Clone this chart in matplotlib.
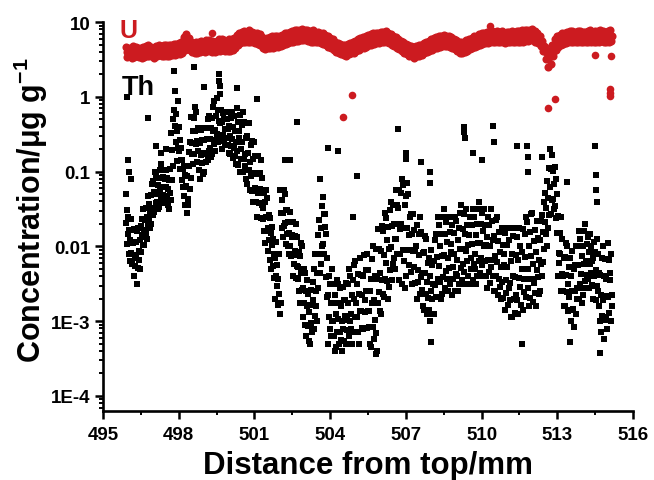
import numpy as np
import matplotlib

matplotlib.use("Agg")
import matplotlib.pyplot as plt
from matplotlib.ticker import FixedLocator, LogLocator, NullFormatter

# LA-ICP-MS line scan, log10 of concentration (ug/g)
X_START = 495.9
TH_STEP = 0.02      # Th sampled every 0.02 mm
U_STEP = 1.0 / 30   # U sampled every 1/30 mm

th_log10 = [
    -1.3, -1.69, -1.97, -1.51, -1.83, -1.61, -2.1, -1.78, -2.2, -1.92,
    -1.64, -2.09, -1.78, -2.23, -1.95, -1.95, -2.4, -1.77, -2.16, -2.26,
    -1.94, -2.12, -2.5, -1.8, -2.29, -1.76, -2.06, -2.18, -1.91, -2.3,
    -1.73, -2.08, -1.85, -1.63, -1.98, -1.5, -1.78, -1.98, -1.65, -1.88,
    -1.48, -1.83, -1.6, -1.9, -1.7, -1.33, -1.65, -1.43, -1.75, -1.55,
    -1.31, -1.7, -1.16, -1.49, -1.58, -1.12, -1.27, -1.54, -1.0, -1.42,
    -1.05, -1.3, -1.4, -1.18, -1.5, -1.09, -1.47, -1.23, -0.98, -1.36,
    -0.9, -1.2, -1.42, -1.07, -1.31, -0.98, -1.33, -1.1, -1.4, -1.2,
    -0.98, -1.34, -1.09, -1.45, -1.23, -1.11, -1.5, -0.96, -1.29, -1.38,
    -0.48, -0.71, -1.11, -0.3, -0.93, 0.35, -0.18, -0.39, 0.08, -0.6,
    -0.23, -0.86, -0.45, -0.05, -0.68, -0.4, -0.73, -0.97, -0.58, -0.85,
    -0.69, -1.11, -0.84, -1.2, -0.96, -0.93, -1.32, -1.05, -1.44, -1.2,
    -1.19, -1.55, -1.06, -1.36, -1.44, -0.74, -0.92, -1.23, -0.6, -1.09,
    -0.27, -0.62, -0.76, -0.45, -0.9, -0.28, -0.77, -0.45, -0.14, -0.63,
    -0.2, -0.59, -0.87, -0.41, -0.73, -0.42, -0.98, -0.62, -1.1, -0.78,
    -0.44, -0.89, -0.58, -1.03, -0.75, -0.58, -1.0, -0.42, -0.77, -0.87,
    -0.42, -0.57, -0.84, -0.3, -0.72, -0.26, -0.56, -0.68, -0.41, -0.8,
    -0.28, -0.77, -0.45, -0.14, -0.63, -0.05, -0.44, -0.72, -0.26, -0.58,
    -0.01, -0.5, -0.18, -0.6, -0.32, 0.21, -0.35, 0.04, -0.52, -0.18,
    -0.34, -0.7, -0.21, -0.51, -0.59, -0.3, -0.43, -0.65, -0.2, -0.55,
    -0.3, -0.55, -0.65, -0.43, -0.75, -0.39, -0.77, -0.53, -0.28, -0.66,
    -0.2, -0.56, -0.82, -0.4, -0.69, -0.26, -0.79, -0.45, -0.9, -0.6,
    -0.15, -0.73, -0.33, -0.91, -0.55, -0.45, -1.0, -0.24, -0.7, -0.83,
    -0.38, -0.61, -1.01, -0.2, -0.83, -0.34, -0.76, -0.93, -0.55, -1.1,
    -0.53, -1.16, -0.75, -0.35, -0.98, -0.35, -0.87, -1.25, -0.64, -1.06,
    -0.59, -1.26, -0.83, -1.4, -1.02, -0.6, -1.22, -0.79, -1.41, -1.03,
    -1.02, -1.6, -0.79, -1.29, -1.42, -1.02, -1.23, -1.62, -0.85, -1.45,
    -1.08, -1.48, -1.64, -1.28, -1.8, -1.4, -1.96, -1.6, -1.24, -1.8,
    -1.35, -1.76, -2.06, -1.58, -1.91, -1.62, -2.18, -1.82, -2.3, -1.98,
    -1.74, -2.26, -1.9, -2.42, -2.1, -2.15, -2.7, -1.94, -2.4, -2.53,
    -2.25, -2.44, -2.78, -2.1, -2.63, -1.25, -2.9, -1.55, -2.75, -1.75,
    -1.38, -1.87, -1.55, -1.24, -1.73, -1.3, -1.69, -1.97, -1.51, -1.83,
    -1.51, -2.0, -1.68, -2.1, -1.82, -1.54, -1.99, -1.68, -2.13, -1.85,
    -1.88, -2.4, -1.68, -2.12, -2.24, -1.86, -2.06, -2.42, -1.7, -2.26,
    -1.88, -2.28, -2.44, -2.08, -2.6, -2.13, -2.76, -2.35, -1.95, -2.58,
    -2.0, -2.55, -2.95, -2.3, -2.75, -2.35, -3.05, -2.6, -3.2, -2.8,
    -2.45, -3.07, -2.64, -3.26, -2.88, -2.78, -3.3, -2.58, -3.02, -3.14,
    -2.48, -2.71, -3.11, -2.3, -2.93, -2.1, -2.6, -2.8, -2.35, -3.0,
    -1.85, -2.55, -2.1, -1.65, -2.35, -1.1, -1.76, -2.24, -1.46, -2.0,
    -1.34, -1.97, -1.56, -2.1, -1.74, -1.57, -2.41, -1.83, -2.67, -2.15,
    -2.65, -3.3, -2.4, -2.95, -3.1, -2.5, -2.75, -3.2, -2.3, -3.0,
    -2.5, -3.0, -3.2, -2.75, -3.4, -2.65, -3.35, -2.9, -2.45, -3.15,
    -2.5, -2.97, -3.31, -2.76, -3.14, -2.55, -3.25, -2.8, -3.4, -3.0,
    -2.54, -3.1, -2.71, -3.27, -2.93, -2.72, -3.3, -2.49, -2.99, -3.12,
    -2.5, -2.75, -3.2, -2.3, -3.0, -2.4, -2.9, -3.1, -2.65, -3.3,
    -2.45, -3.15, -2.7, -2.25, -2.95, -2.2, -2.75, -3.15, -2.5, -2.95,
    -2.37, -3.14, -2.64, -3.3, -2.86, -2.16, -2.87, -2.38, -3.09, -2.65,
    -2.39, -3.1, -2.11, -2.72, -2.88, -2.32, -2.6, -3.09, -2.1, -2.87,
    -2.31, -2.86, -3.08, -2.59, -3.3, -2.43, -3.34, -2.75, -2.17, -3.08,
    -2.0, -2.72, -3.24, -2.39, -2.98, -2.04, -3.16, -2.44, -3.4, -2.76,
    -1.77, -2.61, -2.03, -2.87, -2.35, -2.06, -2.9, -1.73, -2.45, -2.64,
    -1.8, -2.11, -2.68, -1.55, -2.43, -1.62, -2.22, -2.46, -1.92, -2.7,
    -1.74, -2.54, -2.03, -1.51, -2.31, -1.4, -2.01, -2.45, -1.73, -2.23,
    -1.45, -2.15, -1.7, -2.3, -1.9, -1.25, -1.9, -1.45, -2.1, -1.7,
    -1.48, -2.45, -1.25, -1.77, -2.1, -1.28, -1.7, -2.5, -1.1, -2.05,
    -1.18, -1.75, -2.2, -1.45, -2.55, -1.33, -2.4, -1.75, -1.15, -2.05,
    -1.3, -1.85, -2.25, -1.6, -2.05, -1.57, -2.34, -1.84, -2.5, -2.06,
    -1.56, -2.27, -1.78, -2.49, -2.05, -1.99, -2.7, -1.71, -2.32, -2.48,
    -1.83, -2.12, -2.64, -1.6, -2.41, -1.81, -2.36, -2.58, -2.09, -2.8,
    -2.08, -2.85, -2.35, -1.86, -2.63, -1.9, -2.48, -2.9, -2.22, -2.69,
    -2.15, -2.85, -2.4, -3.0, -2.6, -2.05, -2.7, -2.25, -2.9, -2.5,
    -2.19, -2.9, -1.91, -2.52, -2.68, -1.84, -2.14, -2.68, -1.6, -2.44,
    -1.71, -2.26, -2.48, -1.99, -2.7, -1.84, -2.64, -2.13, -1.61, -2.41,
    -1.5, -2.11, -2.55, -1.83, -2.33, -1.67, -2.44, -1.94, -2.6, -2.16,
    -1.6, -2.29, -1.81, -2.5, -2.08, -1.97, -2.65, -1.71, -2.28, -2.44,
    -1.82, -2.1, -2.59, -1.6, -2.37, -1.66, -2.18, -2.39, -1.92, -2.6,
    -1.76, -2.5, -2.03, -1.55, -2.29, -1.45, -2.03, -2.45, -1.77, -2.24,
    -1.57, -2.34, -1.84, -2.5, -2.06, -1.5, -2.19, -1.71, -2.4, -1.98,
    -1.85, -2.5, -1.6, -2.15, -2.3, -1.71, -1.97, -2.45, -1.5, -2.24,
    -1.6, -2.1, -2.3, -1.85, -2.5, -1.7, -2.4, -1.95, -1.5, -2.2,
    -1.4, -1.95, -2.35, -1.7, -2.15, -1.55, -2.25, -1.8, -2.4, -2.0,
    -1.5, -2.19, -1.71, -2.4, -1.98, -1.87, -2.55, -1.61, -2.18, -2.34,
    -1.72, -2.0, -2.49, -1.5, -2.27, -1.66, -2.18, -2.39, -1.92, -2.6,
    -1.86, -2.6, -2.13, -1.65, -2.39, -1.6, -2.21, -2.65, -1.93, -2.43,
    -1.81, -2.54, -2.07, -2.7, -2.28, -1.76, -2.47, -1.98, -2.69, -2.25,
    -2.1, -2.85, -1.82, -2.45, -2.62, -1.98, -2.27, -2.79, -1.75, -2.56,
    -1.92, -2.49, -2.72, -2.2, -2.95, -2.1, -2.94, -2.4, -1.86, -2.7,
    -1.75, -2.41, -2.89, -2.11, -2.65, -1.88, -2.72, -2.18, -2.9, -2.42,
    -1.76, -2.54, -2.0, -2.78, -2.3, -2.07, -2.85, -1.77, -2.43, -2.61,
    -1.84, -2.14, -2.68, -1.6, -2.44, -1.68, -2.3, -2.55, -1.99, -2.8,
    -1.81, -2.69, -2.13, -1.56, -2.44, -1.55, -2.24, -2.74, -1.93, -2.49,
    -1.78, -2.62, -2.08, -2.8, -2.32, -1.66, -2.41, -1.89, -2.64, -2.18,
    -1.92, -2.6, -1.66, -2.23, -2.39, -1.58, -1.81, -2.21, -1.4, -2.03,
    -1.28, -1.68, -1.84, -1.48, -2.0, -1.13, -1.76, -1.35, -0.95, -1.58,
    -0.7, -1.2, -1.56, -0.97, -1.38, -0.78, -1.37, -0.99, -1.5, -1.16,
    -0.94, -1.46, -1.1, -1.62, -1.3, -1.82, -2.4, -1.59, -2.09, -2.22,
    -1.82, -2.1, -2.59, -1.6, -2.37, -1.9, -2.4, -2.6, -2.15, -2.8,
    -2.14, -2.8, -2.38, -1.95, -2.61, -2.0, -2.5, -2.86, -2.27, -2.68,
    -2.15, -2.85, -2.4, -3.0, -2.6, -2.06, -2.84, -2.3, -3.08, -2.6,
    -2.25, -2.9, -2.0, -2.55, -2.7, -2.0, -2.25, -2.7, -1.8, -2.5,
    -1.9, -2.37, -2.56, -2.13, -2.75, -1.99, -2.65, -2.23, -1.8, -2.46,
    -1.7, -2.2, -2.56, -1.97, -2.38, -1.87, -2.43, -2.07, -2.55, -2.23,
    -1.84, -2.36, -2.0, -2.52, -2.2, -2.15, -2.7, -1.94, -2.4, -2.53,
    -2.08, -2.31, -2.71, -1.9, -2.53, -2.1, -2.6, -2.8, -2.35, -3.0,
    -2.38, -3.15, -2.65, -2.16, -2.93, -2.0, -2.72, -3.24, -2.39, -2.98,
    -2.17, -2.94, -2.44, -3.1, -2.66, -1.96, -2.67, -2.18, -2.89, -2.45,
    -2.35, -3.0, -2.1, -2.65, -2.8,
]

# isolated Th readings
th_out_x = [495.95, 496.0, 496.02, 496.1, 496.8, 497.1, 497.3, 497.5, 498.6, 499.0,
            499.6, 499.62, 500.3, 501.1, 502.2, 502.4, 502.7, 503.9, 504.3, 504.9,
            505.05, 506.7, 507.0, 507.02, 507.6, 507.95, 507.97, 508.0, 509.3, 509.32,
            509.34, 509.65, 510.0, 510.45, 510.5, 511.4, 511.6, 511.8, 511.82, 511.84,
            512.4, 513.4, 513.5, 514.5, 514.52, 514.54, 514.56, 514.7, 505.8]
th_out_log10 = [0.0, -0.85, -1.0, -1.1, -0.28, -0.66, -0.75, -0.7, 0.4, 0.13,
                0.3, 0.15, 0.12, -0.03, -0.85, -0.85, -0.34, -0.68, -0.72, -1.6,
                -1.06, -0.43, -0.75, -0.83, -0.87, -1.0, -1.15, -3.28, -0.4, -0.47,
                -0.55, -0.75, -0.85, -0.39, -0.6, -0.66, -3.3, -0.66, -0.8, -1.0,
                -0.8, -1.14, -3.28, -0.66, -1.05, -1.25, -1.4, -3.42, -3.44]

u_log10 = [
    0.67, 0.53, 0.60, 0.66, 0.54, 0.61, 0.65, 0.52, 0.59, 0.68, 0.53, 0.60, 0.67, 0.55, 0.62,
    0.66, 0.53, 0.60, 0.66, 0.52, 0.58,
    0.67, 0.53, 0.61, 0.68, 0.54, 0.60, 0.69, 0.55, 0.62, 0.67, 0.54, 0.61, 0.66, 0.52, 0.60,
    0.68, 0.54, 0.61, 0.69, 0.56, 0.63, 0.68, 0.54, 0.61, 0.70, 0.55, 0.62, 0.69, 0.55, 0.62,
    0.69, 0.55, 0.62, 0.70, 0.56, 0.63, 0.71, 0.56, 0.64, 0.71, 0.57, 0.64, 0.72, 0.57, 0.65,
    0.74, 0.59, 0.66, 0.80, 0.63, 0.71, 0.84, 0.66, 0.75, 0.79, 0.63, 0.71, 0.74, 0.60, 0.67,
    0.72, 0.58, 0.65,
    0.73, 0.59, 0.66, 0.74, 0.60, 0.67, 0.75, 0.61, 0.68, 0.74, 0.60, 0.67, 0.76, 0.61, 0.68,
    0.76, 0.62, 0.69, 0.75, 0.60, 0.68, 0.74, 0.60, 0.67, 0.75, 0.61, 0.68, 0.77, 0.62, 0.69,
    0.77, 0.63, 0.70, 0.76, 0.62, 0.69, 0.75, 0.61, 0.68, 0.77, 0.62, 0.69, 0.78, 0.63, 0.70,
    0.79, 0.65, 0.72, 0.83, 0.69, 0.76, 0.86, 0.72, 0.79, 0.87, 0.73, 0.80, 0.88, 0.74, 0.81,
    0.87, 0.73, 0.80, 0.89, 0.74, 0.81, 0.87, 0.73, 0.80, 0.86, 0.72, 0.79, 0.86, 0.71, 0.79,
    0.84, 0.70, 0.77, 0.80, 0.66, 0.73, 0.78, 0.64, 0.71, 0.79, 0.65, 0.72, 0.80, 0.66, 0.73,
    0.81, 0.66, 0.73, 0.81, 0.67, 0.74, 0.82, 0.67, 0.74, 0.82, 0.68, 0.75,
    0.83, 0.69, 0.76, 0.85, 0.71, 0.78, 0.86, 0.72, 0.79, 0.87, 0.73, 0.80, 0.88, 0.74, 0.81,
    0.89, 0.75, 0.82, 0.90, 0.75, 0.82, 0.90, 0.76, 0.83, 0.91, 0.76, 0.83, 0.90, 0.76, 0.83,
    0.89, 0.75, 0.82, 0.88, 0.74, 0.81, 0.89, 0.74, 0.81, 0.87, 0.73, 0.80, 0.87, 0.73, 0.80,
    0.86, 0.72, 0.79, 0.85, 0.71, 0.78, 0.83, 0.69, 0.76, 0.81, 0.67, 0.74, 0.79, 0.65, 0.72,
    0.77, 0.63, 0.70, 0.74, 0.60, 0.67, 0.72, 0.58, 0.65, 0.71, 0.57, 0.64, 0.70, 0.56, 0.63,
    0.70, 0.55, 0.63, 0.71, 0.57, 0.64, 0.72, 0.58, 0.65, 0.73, 0.59, 0.66, 0.75, 0.61, 0.68,
    0.77, 0.63, 0.70, 0.79, 0.65, 0.72, 0.80, 0.66, 0.73, 0.81, 0.67, 0.74, 0.83, 0.69, 0.76,
    0.84, 0.70, 0.77, 0.85, 0.71, 0.78, 0.86, 0.72, 0.79, 0.86, 0.72, 0.79, 0.87, 0.73, 0.80,
    0.87, 0.73, 0.80, 0.88, 0.73, 0.80, 0.86, 0.72, 0.79, 0.84, 0.70, 0.77, 0.82, 0.68, 0.75,
    0.80, 0.66, 0.73, 0.78, 0.64, 0.71, 0.75, 0.61, 0.68, 0.73, 0.59, 0.66, 0.71, 0.57, 0.64,
    0.69, 0.55, 0.62, 0.68, 0.54, 0.61, 0.67, 0.52, 0.60, 0.68, 0.54, 0.61, 0.69, 0.55, 0.62,
    0.70, 0.56, 0.63, 0.72, 0.58, 0.65, 0.74, 0.60, 0.67, 0.75, 0.61, 0.68, 0.77, 0.63, 0.70,
    0.79, 0.65, 0.72, 0.80, 0.66, 0.73, 0.81, 0.67, 0.74, 0.82, 0.68, 0.75, 0.83, 0.68, 0.75,
    0.82, 0.68, 0.75, 0.81, 0.67, 0.74, 0.80, 0.66, 0.73, 0.78, 0.64, 0.71, 0.76, 0.62, 0.69,
    0.74, 0.59, 0.67, 0.73, 0.58, 0.66, 0.74, 0.60, 0.67, 0.76, 0.62, 0.69, 0.78, 0.64, 0.71,
    0.79, 0.65, 0.72, 0.81, 0.67, 0.74, 0.82, 0.68, 0.75, 0.84, 0.70, 0.77, 0.85, 0.71, 0.78,
    0.86, 0.72, 0.79, 0.87, 0.72, 0.79, 0.87, 0.73, 0.80, 0.88, 0.73, 0.80, 0.87, 0.73, 0.80,
    0.88, 0.74, 0.81, 0.87, 0.73, 0.80, 0.88, 0.73, 0.80, 0.86, 0.72, 0.79, 0.87, 0.73, 0.80,
    0.87, 0.73, 0.80, 0.88, 0.74, 0.81, 0.87, 0.73, 0.80, 0.88, 0.73, 0.80, 0.88, 0.74, 0.81,
    0.89, 0.74, 0.81, 0.89, 0.75, 0.82, 0.90, 0.75, 0.82, 0.90, 0.76, 0.83, 0.91, 0.76, 0.83,
    0.88, 0.74, 0.81, 0.86, 0.72, 0.79, 0.82, 0.68, 0.75, 0.75, 0.61, 0.68, 0.67, 0.51, 0.60,
    0.60, 0.40, 0.53, 0.61, 0.44, 0.54, 0.69, 0.55, 0.62, 0.77, 0.63, 0.70, 0.81, 0.67, 0.74,
    0.83, 0.69, 0.76, 0.85, 0.71, 0.78, 0.86, 0.72, 0.79, 0.87, 0.73, 0.80, 0.88, 0.73, 0.80,
    0.88, 0.74, 0.81, 0.87, 0.73, 0.80, 0.88, 0.73, 0.80, 0.88, 0.74, 0.81, 0.87, 0.73, 0.80,
    0.87, 0.73, 0.80, 0.88, 0.74, 0.81, 0.89, 0.74, 0.81, 0.87, 0.73, 0.80, 0.88, 0.73, 0.80,
    0.88, 0.74, 0.81, 0.89, 0.75, 0.82, 0.88, 0.74, 0.81, 0.87, 0.73, 0.80, 0.88, 0.74, 0.81,
    0.89, 0.75, 0.82,
]

u_out_x = [499.3, 504.5, 504.87, 510.35, 512.63, 512.9, 514.5, 515.1, 515.1, 515.1, 515.12]
u_out_log10 = [0.85, -0.27, 0.02, 0.95, -0.15, -0.03, 0.56, 0.10, 0.05, 0.01, 0.55]

x_ticks = [495, 498, 501, 504, 507, 510, 513, 516]
y_ticks = [1e-4, 1e-3, 1e-2, 1e-1, 1, 10]
y_ticklabels = ["1E-4", "1E-3", "0.01", "0.1", "1", "10"]

U_RED = "#cc1b20"

plt.rcParams["font.family"] = ["Liberation Sans", "DejaVu Sans"]
plt.rcParams["font.weight"] = "bold"
plt.rcParams["mathtext.fontset"] = "custom"
plt.rcParams["mathtext.rm"] = "Liberation Sans:bold"
plt.rcParams["mathtext.default"] = "rm"

th_conc = 10.0 ** np.array(th_log10)
th_x = X_START + TH_STEP * np.arange(len(th_conc))
u_conc = 10.0 ** np.array(u_log10)
u_x = X_START + U_STEP * np.arange(len(u_conc))

fig = plt.figure(figsize=(6.54, 4.81), dpi=100)
ax = fig.add_axes((0.1575, 0.1435, 0.968 - 0.1575, 0.952 - 0.1435))

ax.scatter(th_x, th_conc, s=16, marker="s", c="black", linewidths=0)
ax.scatter(th_out_x, 10.0 ** np.array(th_out_log10), s=16, marker="s", c="black",
           linewidths=0)
ax.scatter(u_x, u_conc, s=34, marker="o", c=U_RED, linewidths=0)
ax.scatter(u_out_x, 10.0 ** np.array(u_out_log10), s=30, marker="o", c=U_RED,
           linewidths=0)

ax.set_yscale("log")
ax.set_xlim(495, 516)
ax.set_ylim(6.3e-5, 10)

ax.set_xticks(x_ticks)
ax.xaxis.set_minor_locator(FixedLocator([t + 1.5 for t in x_ticks[:-1]]))
ax.set_yticks(y_ticks)
ax.set_yticklabels(y_ticklabels)
ax.yaxis.set_minor_locator(LogLocator(base=10, subs=np.arange(2, 10)))
ax.yaxis.set_minor_formatter(NullFormatter())

for side in ("top", "right"):
    ax.spines[side].set_visible(False)
for side in ("left", "bottom"):
    ax.spines[side].set_linewidth(1.9)

ax.tick_params(which="major", direction="out", length=6, width=1.8,
               labelsize=13.5)
ax.tick_params(axis="x", which="major", pad=5)
ax.tick_params(axis="y", which="major", pad=3)
ax.tick_params(which="minor", direction="out", length=3, width=1.4)

ax.set_xlabel("Distance from top/mm", fontsize=22.5, fontweight="bold", labelpad=5)
ax.set_ylabel("Concentration/\u03bcg g$^{-1}$", fontsize=22, fontweight="bold",
              labelpad=0.5)
ax.yaxis.label.set_y(0.52)

ax.text(0.032, 0.961, "U", transform=ax.transAxes, fontsize=18, fontweight="bold",
        color=U_RED, va="baseline", ha="left", clip_on=False)
ax.text(0.036, 0.815, "Th", transform=ax.transAxes, fontsize=19.5, fontweight="bold",
        color="black", va="baseline", ha="left")

fig.savefig("out.png", dpi=100)
